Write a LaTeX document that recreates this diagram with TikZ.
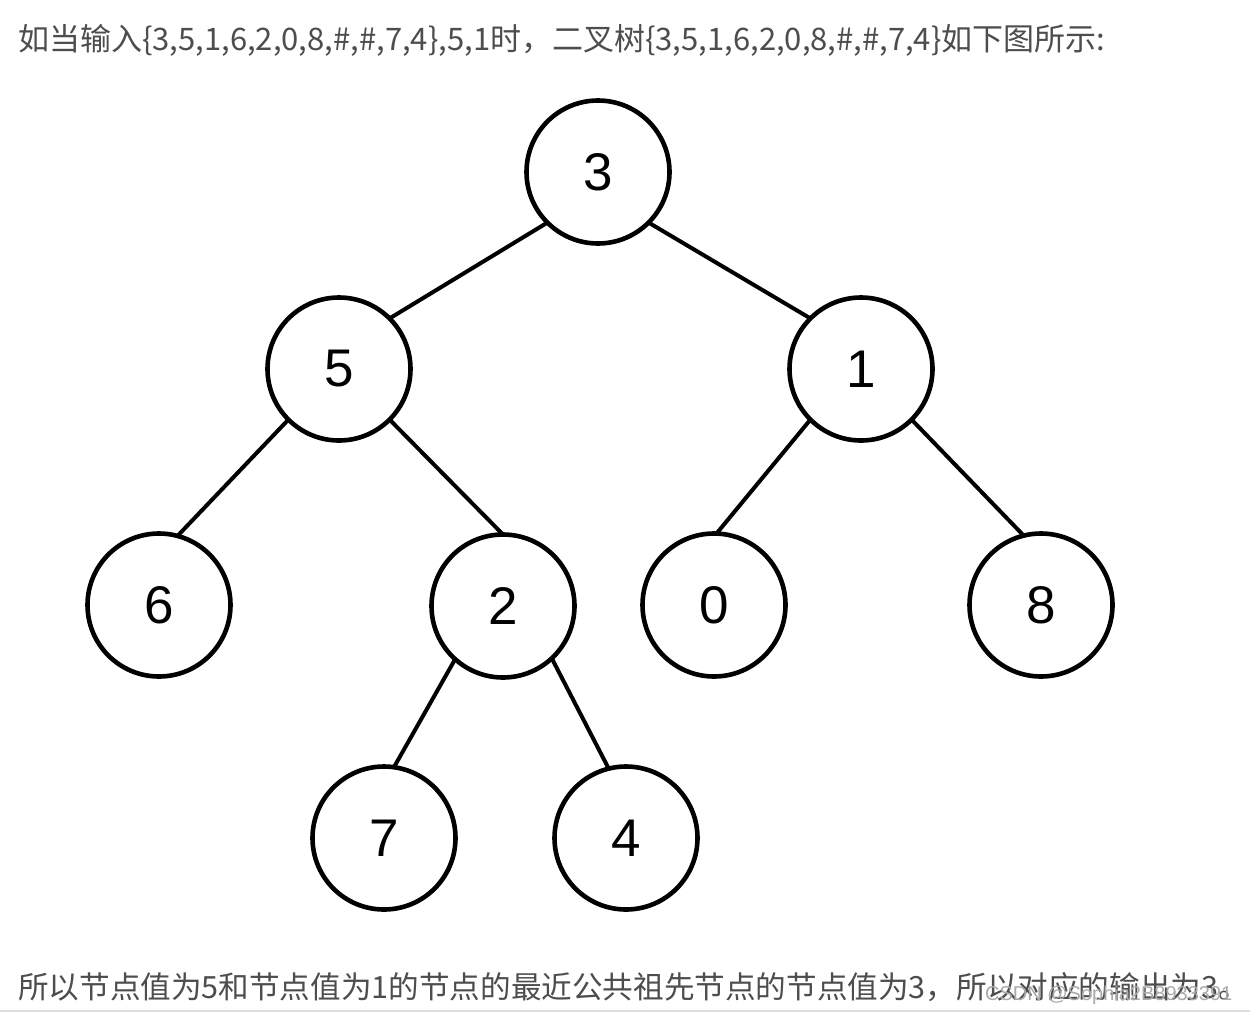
\documentclass[tikz,border=0pt]{standalone}
\usepackage{fontspec}
\setmainfont{Liberation Sans}
\newfontfamily\cjk{Noto Sans CJK SC}
\definecolor{txt}{RGB}{77,77,77}
\definecolor{wm}{RGB}{170,170,170}
\definecolor{rule}{RGB}{221,221,221}
\begin{document}
\begin{tikzpicture}[x=1pt,y=-1pt,
  tn/.style={circle, draw=black, line width=4.6pt, minimum size=143pt, inner sep=0pt, outer sep=0pt,
    font=\fontsize{53}{53}\selectfont},
  edge/.style={line width=4pt, line cap=round},
  para/.style={anchor=base west, inner sep=0pt, text=txt, font=\cjk\fontsize{31}{31}\selectfont}]
\useasboundingbox (0,0) rectangle (1250,1015);
\fill[white] (0,0) rectangle (1250,1015);

\node[para] (top) at (18,50) {如当输入\{3,5,1,6,2,0,8,\#,\#,7,4\},5,1时，二叉树\{3,5,1,6,2,0,8,\#,\#,7,4\}如下图所示:};

\node[tn] (n3) at (598,172) {3};
\node[tn] (n5) at (339,369) {5};
\node[tn] (n1) at (861,369) {1};
\node[tn] (n6) at (159,605) {6};
\node[tn] (n2) at (503,606) {2};
\node[tn] (n0) at (714,605) {0};
\node[tn] (n8) at (1041,605) {8};
\node[tn] (n7) at (384,838) {7};
\node[tn] (n4) at (626,838) {4};

\draw[edge] (n3.225) -- (n5.45);
\draw[edge] (n3.315) -- (n1.135);
\draw[edge] (n5.225) -- (n6.75);
\draw[edge] (n5.315) -- (n2.90);
\draw[edge] (n1.225) -- (n0.88);
\draw[edge] (n1.315) -- (n8.104);
\draw[edge] (n2.228) -- (n7.82);
\draw[edge] (n2.313) -- (n4.104);

\node[para, font=\cjk\fontsize{30.6}{30.6}\selectfont] (bottom) at (18,998) {所以节点值为5和节点值为1的节点的最近公共祖先节点的节点值为3，所以对应的输出为3。};
\node[anchor=base west, inner sep=0pt, text=wm, font=\fontsize{20}{20}\selectfont] (mark) at (985,1000) {CSDN @Sophia2B8933391};
\draw[rule, line width=2.5pt] (0,1011) -- (1250,1011);
\end{tikzpicture}
\end{document}
